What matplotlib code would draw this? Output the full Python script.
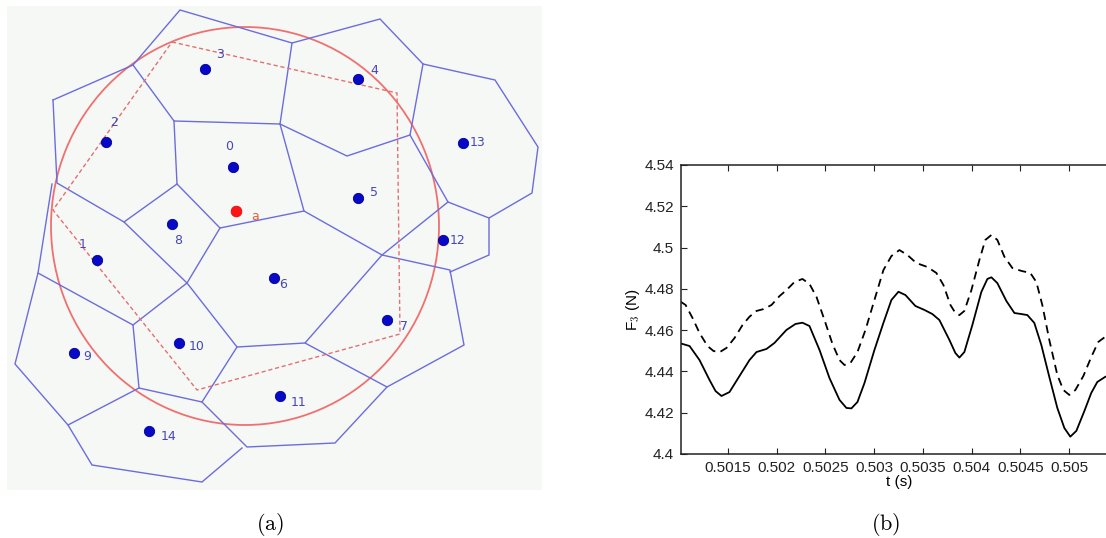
import numpy as np
import matplotlib
matplotlib.use("Agg")
import matplotlib.pyplot as plt
from matplotlib.patches import Ellipse, Rectangle

plt.rcParams['mathtext.fontset'] = 'cm'

W, H = 1106, 538

# ---- panel (a): voronoi sketch, coordinates in image pixels ----
site_ids = ["0", "1", "2", "3", "4", "5", "6", "7", "8", "9", "10", "11", "12", "13", "14"]
site_x = [233, 97, 106, 205, 358, 358, 274, 387, 172, 74, 179, 280, 443, 463, 149]
site_y = [167, 260, 142, 69, 79, 198, 278, 320, 224, 353, 343, 396, 240, 143, 431]
label_x = [229, 83, 114, 220, 374, 374, 283, 404, 178, 87, 197, 299, 458, 478, 169]
label_y = [147, 245, 123, 55, 70, 193, 284, 326, 240, 357, 347, 402, 240, 143, 436]

query_xy = (236, 211)
query_label_xy = (255, 216)

# voronoi cell boundaries as polylines
cell_edges = [
    [(53, 100), (133, 65), (180, 10), (292, 43), (380, 19), (423, 64), (495, 80),
     (538, 147), (532, 193), (489, 218), (489, 255), (450, 272)],
    [(53, 100), (57, 183), (124, 222), (187, 283), (133, 325), (38, 273), (15, 364),
     (68, 425), (92, 465), (202, 482), (242, 448)],
    [(52, 184), (38, 273)],
    [(133, 65), (174, 121), (280, 124), (292, 43)],
    [(174, 121), (177, 184), (220, 228), (304, 211), (280, 124)],
    [(177, 184), (124, 222)],
    [(220, 228), (187, 283), (237, 347), (202, 402), (139, 388), (133, 325)],
    [(68, 425), (139, 388)],
    [(280, 124), (347, 156), (410, 135), (423, 64)],
    [(410, 135), (448, 202), (489, 218)],
    [(448, 202), (382, 255), (304, 211)],
    [(382, 255), (450, 270), (464, 345), (387, 387), (305, 343), (382, 255)],
    [(237, 347), (305, 343)],
    [(202, 402), (247, 447), (335, 443), (387, 387)],
]

circle_center = (245, 226)
circle_w, circle_h = 388, 398

region_x = [172, 397, 400, 197, 53, 172]
region_y = [42, 93, 334, 390, 210, 42]

# ---- panel (b): force signal ----
t_solid = [0.501015, 0.501108, 0.501210, 0.501313, 0.501374, 0.501435, 0.501517, 0.501620,
           0.501722, 0.501794, 0.501897, 0.501978, 0.502101, 0.502194, 0.502265, 0.502337,
           0.502440, 0.502542, 0.502645, 0.502716, 0.502767, 0.502829, 0.502901, 0.503003,
           0.503095, 0.503177, 0.503249, 0.503321, 0.503423, 0.503515, 0.503597, 0.503669,
           0.503772, 0.503833, 0.503874, 0.503925, 0.504007, 0.504099, 0.504161, 0.504202,
           0.504263, 0.504356, 0.504438, 0.504509, 0.504571, 0.504642, 0.504714, 0.504796,
           0.504878, 0.504950, 0.505011, 0.505073, 0.505155, 0.505226, 0.505288, 0.505370]
f_solid = [4.4536, 4.4523, 4.4455, 4.4358, 4.4305, 4.4281, 4.4300, 4.4378,
           4.4455, 4.4494, 4.4509, 4.4538, 4.4601, 4.4630, 4.4636, 4.4620,
           4.4504, 4.4368, 4.4262, 4.4223, 4.4221, 4.4252, 4.4344, 4.4504,
           4.4635, 4.4746, 4.4786, 4.4770, 4.4717, 4.4698, 4.4678, 4.4649,
           4.4552, 4.4489, 4.4467, 4.4494, 4.4625, 4.4785, 4.4848, 4.4856,
           4.4828, 4.4741, 4.4683, 4.4678, 4.4673, 4.4635, 4.4528, 4.4373,
           4.4223, 4.4126, 4.4084, 4.4112, 4.4208, 4.4296, 4.4349, 4.4374]

t_dashed = [0.501015, 0.501067, 0.501138, 0.501210, 0.501292, 0.501353, 0.501415, 0.501487,
            0.501569, 0.501651, 0.501722, 0.501794, 0.501866, 0.501948, 0.502030, 0.502101,
            0.502183, 0.502265, 0.502337, 0.502409, 0.502491, 0.502573, 0.502645, 0.502696,
            0.502757, 0.502829, 0.502911, 0.503003, 0.503095, 0.503177, 0.503259, 0.503341,
            0.503433, 0.503546, 0.503638, 0.503710, 0.503782, 0.503833, 0.503874, 0.503925,
            0.503997, 0.504079, 0.504140, 0.504202, 0.504263, 0.504335, 0.504417, 0.504509,
            0.504601, 0.504663, 0.504724, 0.504796, 0.504878, 0.504940, 0.505001, 0.505063,
            0.505145, 0.505226, 0.505298, 0.505370]
f_dashed = [4.4738, 4.4722, 4.4659, 4.4586, 4.4523, 4.4499, 4.4493, 4.4514,
            4.4562, 4.4625, 4.4665, 4.4693, 4.4702, 4.4722, 4.4765, 4.4794,
            4.4833, 4.4848, 4.4824, 4.4761, 4.4649, 4.4533, 4.4455, 4.4431,
            4.4441, 4.4494, 4.4601, 4.4746, 4.4891, 4.4959, 4.4988, 4.4964,
            4.4925, 4.4906, 4.4877, 4.4819, 4.4722, 4.4683, 4.4673, 4.4693,
            4.4794, 4.4940, 4.5037, 4.5061, 4.5037, 4.4956, 4.4901, 4.4887,
            4.4877, 4.4833, 4.4722, 4.4552, 4.4383, 4.4310, 4.4286, 4.4310,
            4.4378, 4.4470, 4.4543, 4.4568]

x_ticks = [0.5015, 0.502, 0.5025, 0.503, 0.5035, 0.504, 0.5045, 0.505]
x_tick_labels = ["0.5015", "0.502", "0.5025", "0.503", "0.5035", "0.504", "0.5045", "0.505"]
y_ticks = [4.4, 4.42, 4.44, 4.46, 4.48, 4.5, 4.52, 4.54]
y_tick_labels = ["4.4", "4.42", "4.44", "4.46", "4.48", "4.5", "4.52", "4.54"]


def main():
    fig = plt.figure(figsize=(W / 100, H / 100), dpi=100)

    # panel (a)
    x0, y0, x1, y1 = 7, 6, 542, 490
    ax_a = fig.add_axes([x0 / W, 1 - y1 / H, (x1 - x0) / W, (y1 - y0) / H])
    ax_a.set_xlim(x0, x1)
    ax_a.set_ylim(y1, y0)
    ax_a.set_facecolor("#f6f8f6")
    for s in ax_a.spines.values():
        s.set_visible(False)
    ax_a.set_xticks([])
    ax_a.set_yticks([])

    for poly in cell_edges:
        px = [p[0] for p in poly]
        py = [p[1] for p in poly]
        ax_a.plot(px, py, color="#6c6cdc", lw=1.0, solid_joinstyle="miter")

    ax_a.add_patch(Ellipse(circle_center, circle_w, circle_h, fill=False,
                           edgecolor="#f07070", lw=1.3))
    ax_a.plot(region_x, region_y, color="#e27070", lw=1.0, ls=(0, (3, 2)))

    ax_a.scatter(site_x, site_y, s=55, color="#0808c8", edgecolors="#000090",
                 linewidths=0.6, zorder=5)
    for i, name in enumerate(site_ids):
        ax_a.text(label_x[i], label_y[i], name, ha="center", va="center",
                  fontsize=9, color="#4646b8", family="DejaVu Sans")
    ax_a.scatter([query_xy[0]], [query_xy[1]], s=60, color="#ff1515",
                 edgecolors="#e00000", linewidths=0.5, zorder=6)
    ax_a.text(query_label_xy[0], query_label_xy[1], "a", ha="center", va="center",
              fontsize=9, color="#e0603a", family="DejaVu Sans")

    # panel (b)
    left, right, top, bottom = 681, 1118, 165, 454
    ax_b = fig.add_axes([left / W, 1 - bottom / H, (right - left) / W, (bottom - top) / H])
    ax_b.plot(t_solid, f_solid, color="black", lw=1.3)
    ax_b.plot(t_dashed, f_dashed, color="black", lw=1.3, ls=(0, (4.5, 3)))
    ax_b.set_xlim(0.50102, 0.50550)
    ax_b.set_ylim(4.4, 4.54)
    ax_b.set_xticks(x_ticks)
    ax_b.set_xticklabels(x_tick_labels)
    ax_b.set_yticks(y_ticks)
    ax_b.set_yticklabels(y_tick_labels)
    ax_b.tick_params(direction="in", length=4, width=0.8, top=True, right=True,
                     labelsize=11, colors="#222222", pad=5)
    for lab in ax_b.get_xticklabels() + ax_b.get_yticklabels():
        lab.set_family("Liberation Sans")
    for s in ax_b.spines.values():
        s.set_linewidth(1.1)
        s.set_color("#222222")
    ax_b.set_xlabel("t (s)", fontsize=11, family="Liberation Sans", labelpad=0)
    ax_b.set_ylabel(r"F$_3$ (N)", fontsize=11, family="Liberation Sans", labelpad=2)

    # captions
    fig.text(270 / W, 1 - 525 / H, r"$\mathrm{(a)}$", ha="center", va="center", fontsize=16)
    fig.text(886 / W, 1 - 525 / H, r"$\mathrm{(b)}$", ha="center", va="center", fontsize=16)

    fig.savefig("out.png", dpi=100)


if __name__ == "__main__":
    main()
